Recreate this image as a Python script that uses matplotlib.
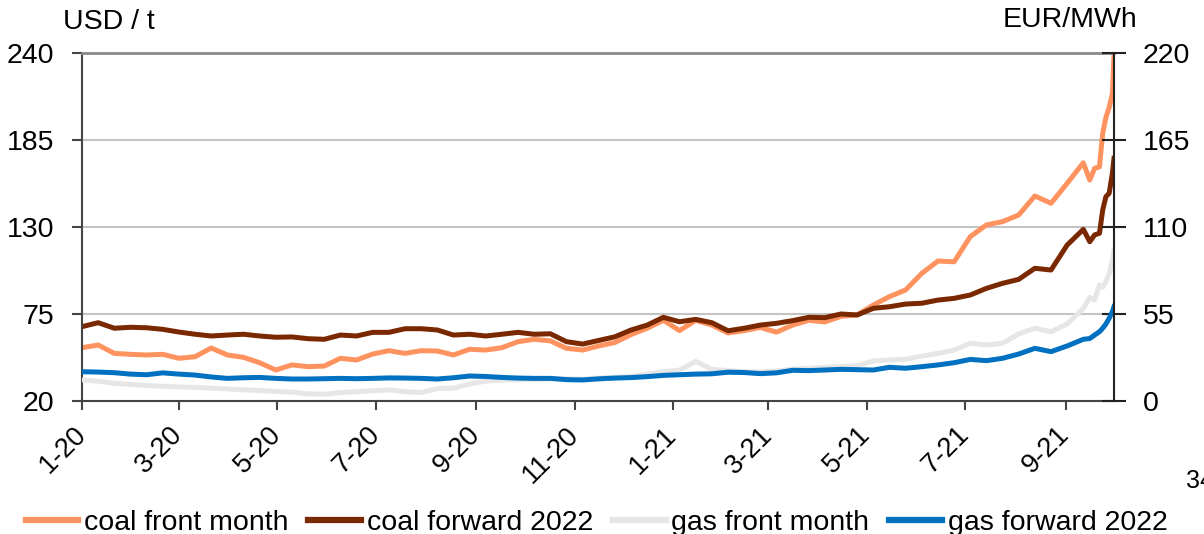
import matplotlib
matplotlib.use('Agg')
import matplotlib.pyplot as plt
import matplotlib.dates as mdates
from matplotlib.lines import Line2D
from matplotlib.ticker import FuncFormatter
import pandas as pd

plt.rcParams['font.family'] = ['Liberation Sans', 'DejaVu Sans']

# sample dates: every 10 days, denser for the last weeks
dates = list(pd.date_range('2020-01-01', periods=63, freq='10D')) + \
    list(pd.to_datetime(['2021-09-16', '2021-09-19', '2021-09-22', '2021-09-24',
                         '2021-09-26', '2021-09-28', '2021-09-30', '2021-10-01']))

# USD / t
coal_front = [53.7, 55.4, 50.1, 49.5, 49.1, 49.5, 47.0, 48.0, 53.5, 49.1,
              47.6, 44.2, 39.6, 42.8, 41.7, 42.1, 47.0, 45.9, 49.7, 51.8,
              50.1, 51.8, 51.6, 49.1, 52.7, 52.2, 53.7, 57.5, 59.0, 58.0,
              53.3, 52.2, 54.8, 57.0, 62.0, 66.0, 71.0, 64.5, 71.0, 68.0,
              63.0, 64.5, 66.5, 63.5, 68.0, 71.0, 70.0, 73.5, 74.4, 80.7,
              86.0, 90.2, 100.7, 108.5, 108.0, 123.9, 131.3, 133.4, 137.6, 149.6,
              145.0, 157.6, 170.6,
              159.7, 167.1, 168.0, 189.2, 199.3, 205.5, 214.5, 238.7]
coal_fwd = [67.0, 69.5, 66.0, 66.6, 66.3, 65.3, 63.6, 62.2, 61.1, 61.7,
            62.2, 61.1, 60.3, 60.5, 59.4, 59.0, 61.7, 61.1, 63.4, 63.4,
            65.7, 65.7, 64.9, 61.7, 62.2, 61.1, 62.2, 63.4, 62.2, 62.5,
            57.5, 56.0, 58.3, 60.6, 64.9, 68.0, 72.9, 70.1, 71.6, 69.5,
            64.4, 66.0, 68.0, 69.1, 70.8, 72.9, 72.7, 75.0, 74.4, 78.6,
            79.6, 81.3, 81.8, 83.8, 84.9, 87.0, 91.2, 94.4, 96.9, 103.9,
            102.8, 118.6, 128.5,
            120.7, 125.0, 126.0, 140.7, 149.2, 151.3, 164.0, 173.4]

# EUR/MWh
gas_front = [13.3, 12.5, 11.2, 10.5, 9.8, 9.3, 8.9, 8.6, 8.1, 7.6,
             7.0, 6.7, 6.0, 5.6, 4.5, 4.3, 5.3, 5.9, 6.5, 7.0,
             5.9, 5.3, 7.8, 8.1, 10.7, 12.6, 13.3, 13.3, 13.8, 14.0,
             14.0, 13.8, 14.5, 15.0, 15.5, 17.0, 18.5, 19.5, 25.0, 20.0,
             19.2, 18.5, 18.5, 18.9, 20.2, 20.6, 21.3, 21.7, 22.3, 25.3,
             26.0, 26.3, 28.4, 30.1, 32.2, 36.5, 35.4, 36.5, 42.4, 46.0,
             43.8, 48.7, 58.6,
             65.5, 63.8, 73.3, 71.9, 75.4, 80.3, 89.1, 95.5]
gas_fwd = [18.5, 18.3, 17.9, 17.0, 16.6, 17.8, 17.0, 16.4, 15.2, 14.3,
           14.7, 14.9, 14.3, 13.9, 13.9, 14.1, 14.3, 14.1, 14.3, 14.6,
           14.5, 14.3, 13.9, 14.7, 15.8, 15.5, 14.9, 14.5, 14.3, 14.3,
           13.5, 13.3, 14.0, 14.5, 14.8, 15.4, 16.2, 16.6, 17.0, 17.2,
           18.2, 18.0, 17.3, 17.8, 19.4, 19.2, 19.6, 20.0, 19.8, 19.6,
           21.3, 20.7, 21.7, 22.8, 24.2, 26.3, 25.5, 27.0, 29.7, 33.3,
           31.2, 34.8, 39.0,
           39.5, 41.7, 43.8, 46.0, 48.7, 52.3, 56.5, 59.6]

left_ticks = [20, 75, 130, 185, 240]
right_ticks = [0, 55, 110, 165, 220]
labels = ['coal front month', 'coal forward 2022', 'gas front month', 'gas forward 2022']
colors = ['#FF935F', '#7A2800', '#E6E6E6', '#0070C0']

FS = 20.5
W, H = 1204, 534

fig = plt.figure(figsize=(W / 100, H / 100), dpi=100)
ax = fig.add_axes([82 / W, 1 - 401 / H, (1114 - 82) / W, (401 - 53) / H])
ax2 = ax.twinx()

ax2.plot(dates, gas_front, color=colors[2], lw=3.6)
ax2.plot(dates, gas_fwd, color=colors[3], lw=3.6)
ax.plot(dates, coal_front, color=colors[0], lw=3.6)
ax.plot(dates, coal_fwd, color=colors[1], lw=3.6)

ax.set_xlim(pd.Timestamp('2020-01-01'), pd.Timestamp('2021-10-01'))
ax.set_ylim(20, 240)
ax.set_yticks(left_ticks)
ax2.set_ylim(0, 220)
ax2.set_yticks(right_ticks)

ax.xaxis.set_major_locator(mdates.MonthLocator(bymonth=[1, 3, 5, 7, 9, 11]))
ax.xaxis.set_major_formatter(FuncFormatter(
    lambda v, p: '%d-%s' % (mdates.num2date(v).month, mdates.num2date(v).strftime('%y'))))

ax.grid(axis='y', color='#C4C4C4', lw=1.5)
ax.set_axisbelow(True)

for s in ['top', 'left', 'bottom', 'right']:
    ax2.spines[s].set_visible(False)
ax2.spines['right'].set_visible(True)
ax2.spines['right'].set_color('#222222')
ax2.spines['right'].set_linewidth(1.5)
ax.spines['right'].set_visible(False)
ax.spines['top'].set_color('#8A8A8A')
ax.spines['top'].set_linewidth(2)
ax.spines['left'].set_color('#444444')
ax.spines['left'].set_linewidth(1.5)
ax.spines['bottom'].set_color('#444444')
ax.spines['bottom'].set_linewidth(1.5)

ax.tick_params(axis='y', direction='out', length=7, width=1.5, pad=13,
               labelsize=FS, color='#444444')
ax2.tick_params(axis='y', direction='inout', length=17, width=1.5, pad=12,
                labelsize=FS, color='#222222')
ax.tick_params(axis='x', direction='out', length=6.5, width=1.5, pad=15,
               labelsize=19.5, color='#444444')
for t in ax.get_xticklabels():
    t.set_rotation(45)
    t.set_rotation_mode('anchor')
    t.set_ha('right')
    t.set_va('center')

fig.text(63 / W, 1 - 29 / H, 'USD / t', fontsize=FS, va='baseline')
fig.text(1003 / W, 1 - 27 / H, 'EUR/MWh', fontsize=FS, va='baseline')
fig.text(1186 / W, 1 - 488 / H, '34', fontsize=18, va='baseline')

handles = [Line2D([], [], color=c, lw=4.5) for c in colors]
fig.legend(handles, labels, loc='center', bbox_to_anchor=(0.4954, 1 - 523 / H),
           ncol=4, frameon=False, fontsize=FS, handlelength=1.85,
           handletextpad=0.2, columnspacing=0.7, borderaxespad=0, borderpad=0)

fig.savefig('out.png', dpi=100)
